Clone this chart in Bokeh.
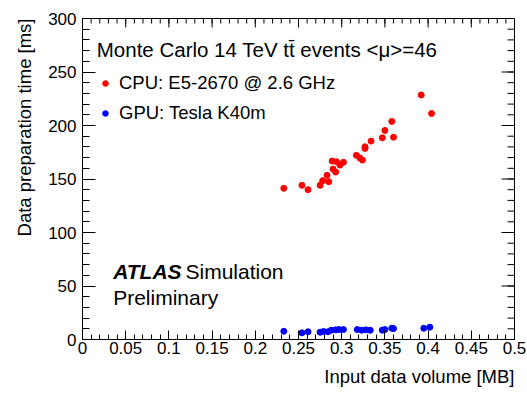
from bokeh.plotting import figure
from bokeh.models import (FixedTicker, LinearAxis, Label, Legend, LegendItem,
                          Range1d, Title)
from bokeh.embed import file_html
from bokeh.resources import INLINE

# ---------------- data ----------------
cpu_x = [0.233, 0.254, 0.261, 0.275, 0.278, 0.285, 0.283, 0.290, 0.293, 0.289,
         0.294, 0.298, 0.302, 0.317, 0.321, 0.324, 0.327, 0.327, 0.334, 0.347,
         0.350, 0.358, 0.360, 0.392, 0.404]
cpu_y = [141.3, 144.1, 140.0, 144.1, 148.4, 147.5, 153.4, 159.3, 156.5, 166.8,
         166.1, 163.0, 165.6, 172.1, 169.6, 167.7, 178.6, 180.1, 185.4, 188.5,
         195.4, 203.8, 189.1, 228.5, 211.2]
gpu_x = [0.233, 0.254, 0.261, 0.275, 0.279, 0.284, 0.288, 0.293, 0.297, 0.302,
         0.318, 0.323, 0.328, 0.333, 0.347, 0.350, 0.358, 0.360, 0.395, 0.402]
gpu_y = [7.7, 6.2, 7.2, 6.8, 7.5, 7.2, 8.7, 9.0, 9.3, 9.3,
         9.3, 8.7, 9.0, 8.7, 8.7, 9.3, 10.5, 10.2, 10.5, 11.5]

x_ticks = [0, 0.05, 0.1, 0.15, 0.2, 0.25, 0.3, 0.35, 0.4, 0.45, 0.5]
x_tick_labels = ["0", "0.05", "0.1", "0.15", "0.2", "0.25", "0.3", "0.35", "0.4", "0.45", "0.5"]
x_minor = [i / 100 for i in range(0, 51)]
y_ticks = [0, 50, 100, 150, 200, 250, 300]
y_tick_labels = ["0", "50", "100", "150", "200", "250", "300"]
y_minor = list(range(0, 301, 10))

legend_labels = ["CPU: E5-2670 @ 2.6 GHz", "GPU: Tesla K40m"]
title_text = "Monte Carlo 14 TeV tt\u0304 events <\u03bc>=46"
x_title = "Input data volume [MB]"
y_title = "Data preparation time [ms]"

FONT = "Liberation Sans"
X0, X1, Y0, Y1 = 0.0, 0.5, 0.0, 300.0
W, H = 527, 394
BL, BR, BT, BB = 82, 13, 18, 54
FW, FH = W - BL - BR, H - BT - BB

p = figure(width=W, height=H, output_backend="svg",
           toolbar_location=None,
           x_range=Range1d(X0, X1), y_range=Range1d(Y0, Y1),
           min_border_left=BL, min_border_right=BR, min_border_top=BT,
           min_border_bottom=BB, x_axis_location=None, y_axis_location=None)
p.grid.visible = False
p.outline_line_color = "black"
p.outline_line_width = 1
p.background_fill_color = "white"
p.border_fill_color = "white"


def style_axis(ax, ticks, minor, labels, standoff, major_len, minor_len):
    ax.ticker = FixedTicker(ticks=ticks, minor_ticks=minor)
    ax.axis_line_color = "black"
    ax.major_tick_line_color = "black"
    ax.minor_tick_line_color = "black"
    ax.major_tick_in = major_len
    ax.major_tick_out = 0
    ax.minor_tick_in = minor_len
    ax.minor_tick_out = 0
    ax.major_label_overrides = {t: l for t, l in zip(ticks, labels)}
    ax.major_label_text_font = FONT
    ax.major_label_text_font_size = "17px"
    ax.major_label_text_color = "black"
    ax.major_label_standoff = standoff


xb = LinearAxis()
style_axis(xb, x_ticks, x_minor, x_tick_labels, 2, 9, 5)
p.add_layout(xb, "below")
yl = LinearAxis()
style_axis(yl, y_ticks, y_minor, y_tick_labels, 6, 13, 7)
p.add_layout(yl, "left")

# inward ROOT-style ticks on top and right sides
dx_major = 13 * (X1 - X0) / FW
dx_minor = 7 * (X1 - X0) / FW
dy_major = 9 * (Y1 - Y0) / FH
dy_minor = 5 * (Y1 - Y0) / FH
tick_kw = dict(line_color="black", line_width=1)
for ticks, d in ((x_ticks, dy_major), (x_minor, dy_minor)):
    p.multi_line(xs=[[t, t] for t in ticks], ys=[[Y1, Y1 - d] for t in ticks], **tick_kw)
for ticks, d in ((y_ticks, dx_major), (y_minor, dx_minor)):
    p.multi_line(xs=[[X1, X1 - d] for t in ticks], ys=[[t, t] for t in ticks], **tick_kw)

cpu = p.scatter(cpu_x, cpu_y, size=6, color="red", marker="circle")
gpu = p.scatter(gpu_x, gpu_y, size=6, color="blue", marker="circle")

legend = Legend(items=[LegendItem(label=legend_labels[0], renderers=[cpu]),
                       LegendItem(label=legend_labels[1], renderers=[gpu])],
                location=(16, 215), margin=0, padding=0, spacing=8,
                glyph_width=14, glyph_height=20, label_height=20,
                label_standoff=7, label_text_font=FONT,
                label_text_font_size="18.5px", label_text_color="black",
                border_line_alpha=0, background_fill_alpha=0)
p.add_layout(legend)

p.add_layout(Label(x=0.0165, y=271.4, text=title_text, text_font=FONT,
                   text_font_size="20.5px", text_baseline="alphabetic",
                   text_color="black"))
p.add_layout(Label(x=0.0355, y=63.3, text="ATLAS", text_font=FONT,
                   text_font_size="21px", text_font_style="bold italic",
                   text_baseline="alphabetic", text_color="black"))
p.add_layout(Label(x=0.1192, y=63.3, text="Simulation", text_font=FONT,
                   text_font_size="21px", text_baseline="alphabetic",
                   text_color="black"))
p.add_layout(Label(x=0.0355, y=39.7, text="Preliminary", text_font=FONT,
                   text_font_size="21px", text_baseline="alphabetic",
                   text_color="black"))

p.add_layout(Title(text=x_title, align="right", text_font=FONT,
                   text_font_size="18.5px", text_font_style="normal",
                   text_color="black", standoff=15), "below")
p.add_layout(Title(text=y_title, align="right", text_font=FONT,
                   text_font_size="18.5px", text_font_style="normal",
                   text_color="black", standoff=21), "left")

open("out.html", "w").write(file_html(p, INLINE))
